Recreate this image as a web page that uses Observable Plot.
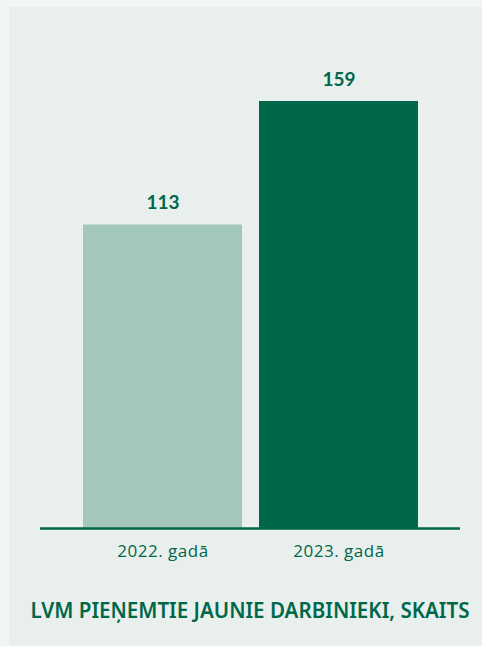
<!DOCTYPE html>
<html>
<head>
<meta charset="utf-8">
<script src="https://cdn.jsdelivr.net/npm/d3@7"></script>
<script src="https://cdn.jsdelivr.net/npm/@observablehq/plot@0.6"></script>
<style>
  html, body { margin: 0; padding: 0; background: #f1f6f3; }
  body { width: 482px; height: 646px; overflow: hidden; }
  #panel { position: absolute; left: 9px; top: 7px; width: 473px; height: 639px; background: #e9efec; }
  #title { position: absolute; left: 0; top: 589px; width: 482px; text-align: center; white-space: nowrap;
    font-family: "Noto Sans", sans-serif; font-weight: 600; font-size: 20.6px; color: #00684a; }
  svg { display: block; }
  g[aria-label="x-axis tick label"] text { letter-spacing: 0.5px; }
</style>
</head>
<body>
<div id="panel">
  <div id="chart"></div>
  <div id="title">LVM PIEŅEMTIE JAUNIE DARBINIEKI, SKAITS</div>
</div>
<script>
const categories = ["2022. gadā", "2023. gadā"];
const values = [113, 159];
const colors = ["#a3c8b9", "#00674a"];

const data = categories.map((c, i) => ({cat: c, value: values[i], color: colors[i]}));

const chart = Plot.plot({
  width: 473,
  height: 560,
  marginLeft: 31,
  marginRight: 22,
  marginTop: 94,
  marginBottom: 39,
  style: {background: "transparent", fontFamily: "Lato, sans-serif", color: "#00684a", overflow: "visible"},
  x: {domain: categories, paddingInner: 0.097, paddingOuter: 0.24, label: null},
  y: {domain: [0, 159], axis: null},
  marks: [
    Plot.barY(data, {x: "cat", y: "value", fill: "color"}),
    Plot.text(data, {x: "cat", y: "value", text: d => String(d.value), lineAnchor: "bottom", dy: -16,
      fontSize: 19, fontWeight: "bold", fill: "#00684a", fontFamily: "Lato, sans-serif"}),
    Plot.ruleY([0], {stroke: "#00684a", strokeWidth: 2.5}),
    Plot.axisX({tickSize: 0, tickPadding: 16, fontSize: 17, label: null, fill: "#00684a", fontFamily: "'Open Sans', sans-serif"})
  ]
});
document.getElementById("chart").appendChild(chart);
</script>
</body>
</html>
